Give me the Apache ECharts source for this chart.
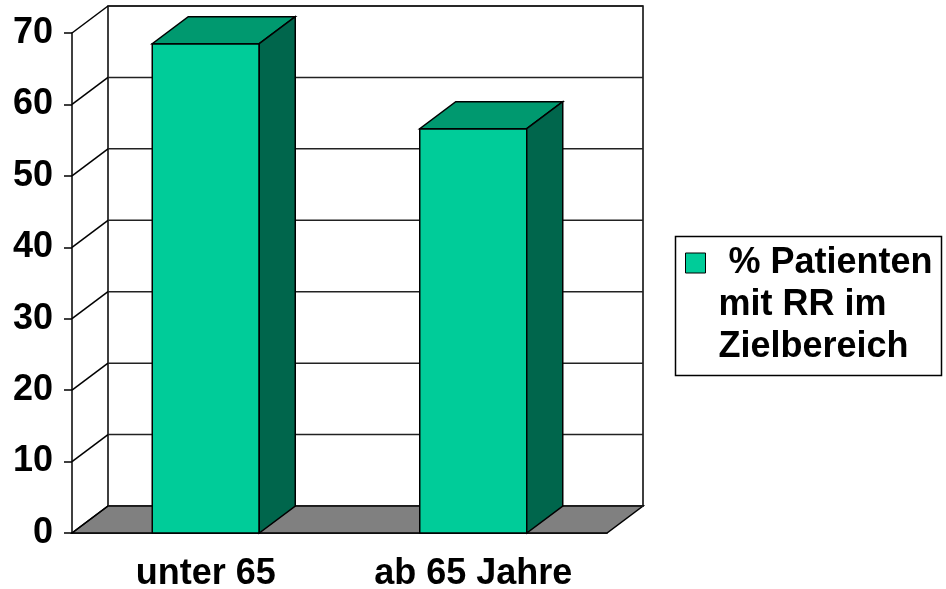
<!DOCTYPE html>
<html>
<head>
<meta charset="utf-8">
<script src="https://cdn.jsdelivr.net/npm/echarts@6/dist/echarts.min.js"></script>
<style>
  html, body { margin: 0; padding: 0; background: #fff; }
  #chart { width: 946px; height: 589px; }
</style>
</head>
<body>
<div id="chart"></div>
<script>
// Daten
var categories = ['unter 65', 'ab 65 Jahre'];
var percentInRange = [68.5, 56.6];
var yTicks = [0, 10, 20, 30, 40, 50, 60, 70];
var seriesName = '% Patienten mit RR im Zielbereich';
var legendLines = [' % Patienten', 'mit RR im', 'Zielbereich'];

// 3D-Tiefe (Versatz der Rückwand)
var DX = 36, DY = -27;
var FONT = 'Liberation Sans';
var FRONT = '#00CC99', TOP = '#00996F', SIDE = '#00664C';

var chart = echarts.init(document.getElementById('chart'));

function renderWalls(params, api) {
  var cs = params.coordSys;
  return {
    type: 'group',
    children: [{
      type: 'rect',
      shape: { x: cs.x + DX, y: cs.y + DY, width: cs.width, height: cs.height },
      style: { fill: '#fff', stroke: '#000', lineWidth: 1.5 }
    }, {
      type: 'polygon',
      shape: {
        points: [
          [cs.x, cs.y + cs.height],
          [cs.x + cs.width, cs.y + cs.height],
          [cs.x + cs.width + DX, cs.y + cs.height + DY],
          [cs.x + DX, cs.y + cs.height + DY]
        ]
      },
      style: { fill: '#808080', stroke: '#000', lineWidth: 1.5 }
    }]
  };
}

function renderGridLines(params, api) {
  var cs = params.coordSys;
  var y = api.coord([0, api.value(1)])[1];
  return {
    type: 'group',
    children: [{
      type: 'line',
      shape: { x1: cs.x, y1: y, x2: cs.x + DX, y2: y + DY },
      style: { stroke: '#000', lineWidth: 1.5 }
    }, {
      type: 'line',
      shape: { x1: cs.x + DX, y1: y + DY, x2: cs.x + cs.width + DX, y2: y + DY },
      style: { stroke: '#222', lineWidth: 1.5 }
    }]
  };
}

function renderBar(params, api) {
  var idx = api.value(0);
  var top = api.coord([idx, api.value(1)]);
  var base = api.coord([idx, 0]);
  var w = api.size([1, 0])[0] * 0.4;
  var x0 = top[0] - w / 2, x1 = top[0] + w / 2;
  return {
    type: 'group',
    children: [{
      type: 'rect',
      shape: { x: x0, y: top[1], width: w, height: base[1] - top[1] },
      style: { fill: FRONT, stroke: '#000', lineWidth: 1.5 }
    }, {
      type: 'polygon',
      shape: { points: [[x0, top[1]], [x1, top[1]], [x1 + DX, top[1] + DY], [x0 + DX, top[1] + DY]] },
      style: { fill: TOP, stroke: '#000', lineWidth: 1.5 }
    }, {
      type: 'polygon',
      shape: { points: [[x1, top[1]], [x1, base[1]], [x1 + DX, base[1] + DY], [x1 + DX, top[1] + DY]] },
      style: { fill: SIDE, stroke: '#000', lineWidth: 1.5 }
    }]
  };
}

chart.setOption({
  backgroundColor: '#fff',
  animation: false,
  grid: { left: 72, top: 33, width: 535, height: 500, outerBoundsMode: 'none', containLabel: false },
  xAxis: {
    type: 'category',
    data: categories,
    axisLine: { lineStyle: { color: '#000', width: 1.5 } },
    axisTick: { length: 8, lineStyle: { color: '#000', width: 1.5 } },
    axisLabel: { color: '#000', fontFamily: FONT, fontWeight: 'bold', fontSize: 36, margin: 23 },
    splitLine: { show: false }
  },
  yAxis: {
    type: 'value',
    min: 0, max: 70, interval: 10,
    axisLine: { show: true, lineStyle: { color: '#000', width: 1.5 } },
    axisTick: { show: true, length: 8, lineStyle: { color: '#000', width: 1.5 } },
    axisLabel: { color: '#000', fontFamily: FONT, fontWeight: 'bold', fontSize: 36, margin: 19, showMaxLabel: true, padding: [11, 0, 0, 0] },
    splitLine: { show: false }
  },
  legend: {
    left: 685,
    top: 158,
    padding: 0,
    itemWidth: 20,
    itemHeight: 20,
    selectedMode: false,
    data: [{ name: seriesName, icon: 'rect', itemStyle: { color: FRONT, borderColor: '#000', borderWidth: 1 } }],
    // zwei Leerzeilen vorne, damit die erste Zeile neben dem Symbol steht
    formatter: function () { return '\n\n' + legendLines.join('\n'); },
    textStyle: {
      color: '#000', fontFamily: FONT, fontWeight: 'bold', fontSize: 36, lineHeight: 42,
      padding: [0, 0, 0, 8]
    }
  },
  graphic: [{
    type: 'rect',
    left: 673, top: 234,
    shape: { width: 266, height: 139 },
    style: { fill: 'none', stroke: '#000', lineWidth: 1.5 },
    z: 10
  }],
  series: [{
    type: 'custom',
    name: 'walls',
    z: 1,
    silent: true,
    renderItem: renderWalls,
    data: [[0, 0]]
  }, {
    type: 'custom',
    name: 'grid',
    z: 2,
    silent: true,
    renderItem: renderGridLines,
    data: yTicks.map(function (v) { return [0, v]; })
  }, {
    type: 'custom',
    name: seriesName,
    z: 3,
    itemStyle: { color: FRONT },
    renderItem: renderBar,
    data: percentInRange.map(function (v, i) { return [i, v]; })
  }]
});
</script>
</body>
</html>
